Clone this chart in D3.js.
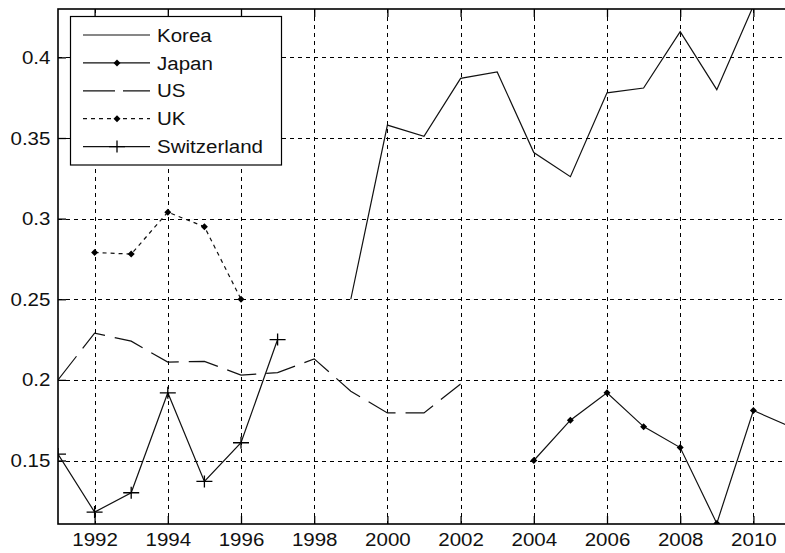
<!DOCTYPE html>
<html>
<head>
<meta charset="utf-8">
<script src="https://cdn.jsdelivr.net/npm/d3@7"></script>
<style>
  body { margin: 0; background: #fff; }
  svg { display: block; font-family: Arial, "Liberation Sans", sans-serif; }
</style>
</head>
<body>
<div id="chart"></div>
<script>
// values
const years = [1991, 1992, 1993, 1994, 1995, 1996, 1997, 1998, 1999, 2000, 2001,
  2002, 2003, 2004, 2005, 2006, 2007, 2008, 2009, 2010, 2011];

const korea = [null, null, null, null, null, null, null, null, 0.250, 0.358, 0.351,
  0.387, 0.391, 0.341, 0.326, 0.378, 0.381, 0.416, 0.380, 0.432, null];
const japan = [null, null, null, null, null, null, null, null, null, null, null,
  null, null, 0.150, 0.175, 0.192, 0.171, 0.158, 0.111, 0.181, 0.171];
const us = [0.200, 0.229, 0.224, 0.211, 0.2115, 0.203, 0.2045, 0.213, 0.193, 0.1795, 0.1795,
  0.1975, null, null, null, null, null, null, null, null, null];
const uk = [null, 0.279, 0.278, 0.304, 0.295, 0.250, null, null, null, null, null,
  null, null, null, null, null, null, null, null, null, null];
const switzerland = [0.154, 0.118, 0.130, 0.192, 0.137, 0.161, 0.225, null, null, null, null,
  null, null, null, null, null, null, null, null, null, null];

const xTicks = [1992, 1994, 1996, 1998, 2000, 2002, 2004, 2006, 2008, 2010];
const yTicks = [0.15, 0.2, 0.25, 0.3, 0.35, 0.4];
const yTickLabels = ['0.15', '0.2', '0.25', '0.3', '0.35', '0.4'];

const series = [
  { name: 'Korea', values: korea, dash: null, marker: null },
  { name: 'Japan', values: japan, dash: null, marker: 'dot' },
  { name: 'US', values: us, dash: '30,10', marker: null },
  { name: 'UK', values: uk, dash: '4,4', marker: 'dot' },
  { name: 'Switzerland', values: switzerland, dash: null, marker: 'plus' }
];

const width = 785;
const height = 553;
const box = { left: 58, right: 790, top: 9, bottom: 524 };

const svg = d3.select('#chart').append('svg')
  .attr('width', width)
  .attr('height', height);

const x = d3.scaleLinear().domain([1991, 2011]).range([box.left, box.right]);
const y = d3.scaleLinear().domain([0.11, 0.43]).range([box.bottom + 1, box.top]);

svg.append('clipPath').attr('id', 'clip')
  .append('rect')
  .attr('x', box.left).attr('y', box.top)
  .attr('width', box.right - box.left).attr('height', box.bottom - box.top);

/* ---------- grid ---------- */
const grid = svg.append('g').attr('stroke', '#000').attr('stroke-width', 1)
  .attr('stroke-dasharray', '4,4').attr('shape-rendering', 'crispEdges');
grid.selectAll('.gx').data(xTicks).enter().append('line')
  .attr('x1', d => Math.round(x(d)) + 0.5).attr('x2', d => Math.round(x(d)) + 0.5)
  .attr('y1', box.top).attr('y2', box.bottom);
grid.selectAll('.gy').data(yTicks).enter().append('line')
  .attr('y1', d => Math.round(y(d)) + 0.5).attr('y2', d => Math.round(y(d)) + 0.5)
  .attr('x1', box.left).attr('x2', box.right);

/* ---------- axes ---------- */
const xAxisB = d3.axisBottom(x).tickValues(xTicks).tickSizeInner(-8).tickSizeOuter(0).tickPadding(9)
  .tickFormat(d3.format('d'));
const xAxisT = d3.axisTop(x).tickValues(xTicks).tickSizeInner(-8).tickSizeOuter(0).tickFormat('');
const yAxisL = d3.axisLeft(y).tickValues(yTicks).tickSizeInner(-8).tickSizeOuter(0).tickPadding(7)
  .tickFormat((d, i) => yTickLabels[i]);

function styleAxis(g) {
  g.select('.domain').remove();
  g.selectAll('.tick line').attr('stroke', '#000').attr('stroke-width', 1.3);
  g.selectAll('.tick text').attr('fill', '#111').style('font-size', '19px')
    .style('font-family', 'Arial, "Liberation Sans", sans-serif')
    .attr('transform', 'scale(1.08,1)');
}

svg.append('g').attr('transform', 'translate(0,' + box.bottom + ')').call(xAxisB).call(styleAxis);
svg.append('g').attr('transform', 'translate(0,' + box.top + ')').call(xAxisT).call(styleAxis);
svg.append('g').attr('transform', 'translate(' + box.left + ',0)').call(yAxisL).call(styleAxis);

/* ---------- series ---------- */
const line = d3.line()
  .defined(d => d.v !== null)
  .x(d => x(d.year))
  .y(d => y(d.v));

const plot = svg.append('g').attr('clip-path', 'url(#clip)');

function drawMarker(g, kind, cx, cy) {
  if (kind === 'dot') {
    g.append('path')
      .attr('d', 'M' + cx + ',' + (cy - 3.5) + 'L' + (cx + 3.5) + ',' + cy + 'L' + cx + ',' + (cy + 3.5) + 'L' + (cx - 3.5) + ',' + cy + 'Z')
      .attr('fill', '#000');
  } else if (kind === 'plus') {
    g.append('path')
      .attr('d', 'M' + (cx - 8) + ',' + cy + 'H' + (cx + 8) + 'M' + cx + ',' + (cy - 6) + 'V' + (cy + 6))
      .attr('stroke', '#000').attr('stroke-width', 1.3).attr('fill', 'none');
  }
}

series.forEach(s => {
  const pts = years.map((yr, i) => ({ year: yr, v: s.values[i] }));
  plot.append('path')
    .datum(pts)
    .attr('d', line)
    .attr('fill', 'none')
    .attr('stroke', '#111')
    .attr('stroke-width', 1.2)
    .attr('stroke-dasharray', s.dash);
  if (s.marker) {
    pts.filter(d => d.v !== null).forEach(d => drawMarker(plot, s.marker, x(d.year), y(d.v)));
  }
});

/* ---------- box ---------- */
svg.append('rect')
  .attr('x', box.left).attr('y', box.top)
  .attr('width', box.right - box.left).attr('height', box.bottom - box.top)
  .attr('fill', 'none').attr('stroke', '#000').attr('stroke-width', 1.6);

/* ---------- legend ---------- */
const legend = svg.append('g');
legend.append('rect')
  .attr('x', 70.5).attr('y', 16.5).attr('width', 211).attr('height', 148.5)
  .attr('fill', '#fff').attr('stroke', '#000').attr('stroke-width', 1.2);

series.forEach((s, i) => {
  const ly = 35 + i * 27.9;
  legend.append('line')
    .attr('x1', 83).attr('x2', 150).attr('y1', ly).attr('y2', ly)
    .attr('stroke', '#111').attr('stroke-width', 1.2)
    .attr('stroke-dasharray', s.dash === '30,10' ? '32,8' : s.dash);
  if (s.marker) drawMarker(legend, s.marker, 117, ly);
  legend.append('text')
    .attr('x', 157).attr('y', ly)
    .attr('dy', '0.35em')
    .attr('transform', 'translate(157,0) scale(1.08,1) translate(-157,0)')
    .attr('fill', '#111')
    .style('font-size', '19px')
    .text(s.name);
});
</script>
</body>
</html>
